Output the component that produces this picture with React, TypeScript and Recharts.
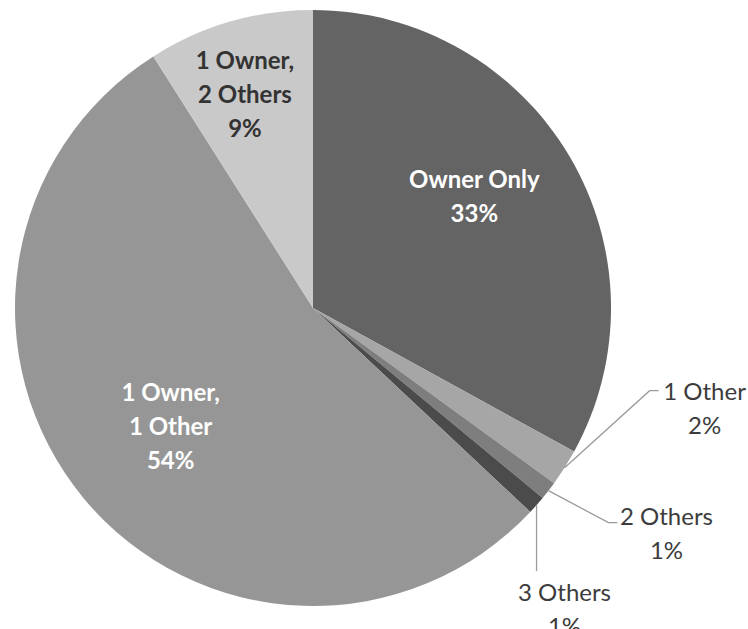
import React from "react";
import { PieChart, Pie, Cell } from "recharts";

const categories = ["Owner Only", "1 Other", "2 Others", "3 Others", "1 Owner, 1 Other", "1 Owner, 2 Others"];
const shares = [33, 2, 1, 1, 54, 9];
const sliceColors = ["#646464", "#a6a6a6", "#7e7e7e", "#4b4b4b", "#969696", "#c9c9c9"];

const data = categories.map((name, i) => ({ name, value: shares[i] }));

const RAD = Math.PI / 180;
const FONT = "Lato, 'Open Sans', sans-serif";
const LH = 34;

// inside labels: radius fraction + small angle nudge; outside ones get a leader line
const labelLayout: Record<string, any> = {
    "Owner Only": { inside: true, r: 0.66, da: 4.3, lines: ["Owner Only"], fill: "#ffffff" },
    "1 Owner, 1 Other": { inside: true, r: 0.62, da: 0, lines: ["1 Owner,", "1 Other"], fill: "#ffffff" },
    "1 Owner, 2 Others": { inside: true, r: 0.755, da: 1.4, lines: ["1 Owner,", "2 Others"], fill: "#333333" },
    "1 Other": { elbow: [85, -77], run: 9, text: [46, 0] },
    "2 Others": { elbow: [60, 32], run: 9, text: [49, -7] },
    "3 Others": { elbow: [0, 66], run: 0, text: [28, 20] },
};

const renderLabel = (props: any) => {
    const { cx, cy, midAngle, outerRadius, index, name, value } = props;
    const cfg = labelLayout[name];
    if (cfg.inside) {
        const a = (midAngle + cfg.da) * RAD;
        const r = outerRadius * cfg.r;
        const x = cx + r * Math.cos(a);
        const y = cy - r * Math.sin(a);
        const lines = [...cfg.lines, `${value}%`];
        const top = y - ((lines.length - 1) * LH) / 2;
        return (
            <text key={index} x={x} y={top} fill={cfg.fill} textAnchor="middle" fontFamily={FONT} fontSize={24} fontWeight={700}>
                {lines.map((t: string, i: number) => (
                    <tspan key={i} x={x} y={top + i * LH} dominantBaseline="central">{t}</tspan>
                ))}
            </text>
        );
    }
    const a = midAngle * RAD;
    const sx = cx + outerRadius * Math.cos(a);
    const sy = cy - outerRadius * Math.sin(a);
    const ex = sx + cfg.elbow[0];
    const ey = sy + cfg.elbow[1];
    const hx = ex + cfg.run;
    const tx = hx + cfg.text[0];
    const ty = ey + cfg.text[1];
    return (
        <g key={index}>
            <polyline points={`${sx},${sy} ${ex},${ey} ${hx},${ey}`} fill="none" stroke="#9a9a9a" strokeWidth={1.3} />
            <text x={tx} y={ty} fill="#3c3c3c" textAnchor="middle" fontFamily={FONT} fontSize={24}>
                <tspan x={tx} y={ty} dominantBaseline="central">{name}</tspan>
                <tspan x={tx} y={ty + LH} dominantBaseline="central">{`${value}%`}</tspan>
            </text>
        </g>
    );
};

export default function App() {
    return (
        <div style={{ position: "absolute", left: 0, top: 0, width: 748, height: 629, background: "#ffffff" }}>
            <PieChart width={748} height={629} margin={{ top: 0, right: 0, bottom: 0, left: 0 }}>
                <Pie
                    data={data}
                    dataKey="value"
                    nameKey="name"
                    cx={313}
                    cy={308}
                    outerRadius={298}
                    startAngle={90}
                    endAngle={-270}
                    stroke="none"
                    label={renderLabel}
                    labelLine={false}
                    isAnimationActive={false}
                >
                    {data.map((d, i) => (
                        <Cell key={d.name} fill={sliceColors[i]} />
                    ))}
                </Pie>
            </PieChart>
        </div>
    );
}
